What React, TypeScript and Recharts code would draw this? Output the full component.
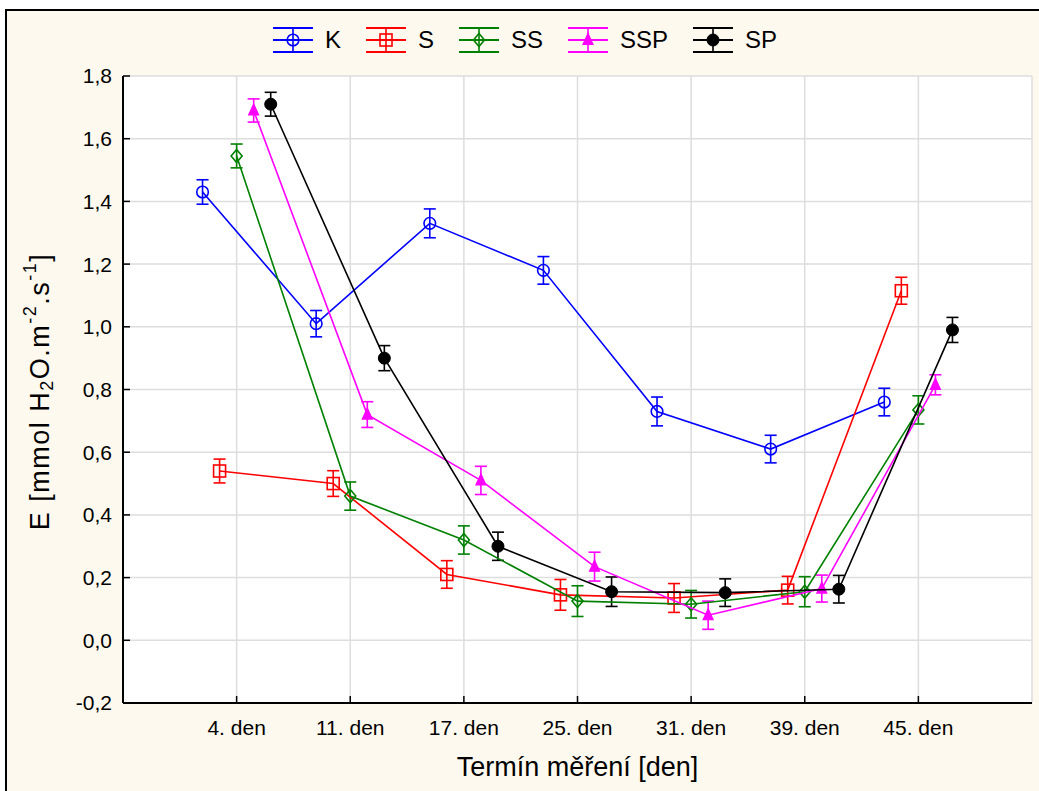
import React from 'react';
import { ScatterChart, Scatter, XAxis, YAxis, CartesianGrid, ErrorBar } from 'recharts';

// Measurement days (x categories)
const categories = ['4. den', '11. den', '17. den', '25. den', '31. den', '39. den', '45. den'];

// Mean transpiration per variant, mmol H2O m-2 s-1
const kMean = [1.43, 1.01, 1.33, 1.18, 0.73, 0.61, 0.76];
const sMean = [0.54, 0.5, 0.21, 0.145, 0.135, 0.16, 1.115];
const ssMean = [1.545, 0.46, 0.32, 0.125, 0.115, 0.155, 0.735];
const sspMean = [1.69, 0.72, 0.51, 0.235, 0.08, 0.165, 0.815];
const spMean = [1.71, 0.9, 0.3, 0.155, 0.152, 0.163, 0.99];

// Half-width of the error bars (standard error)
const kErr = [0.039, 0.042, 0.046, 0.044, 0.046, 0.044, 0.044];
const sErr = [0.038, 0.041, 0.044, 0.049, 0.046, 0.044, 0.043];
const ssErr = [0.038, 0.045, 0.045, 0.049, 0.044, 0.048, 0.045];
const sspErr = [0.037, 0.041, 0.045, 0.046, 0.045, 0.043, 0.032];
const spErr = [0.038, 0.04, 0.045, 0.047, 0.044, 0.044, 0.04];

const yTicks = [-0.2, 0, 0.2, 0.4, 0.6, 0.8, 1.0, 1.2, 1.4, 1.6, 1.8];
const rightTicks = [0, 1, 2, 3, 4, 5, 6, 7, 8, 9, 10, 11];

const FONT = '"Liberation Sans", Arial, Helvetica, sans-serif';
const GROUP_SHIFT = 0.15; // horizontal spread of the five variants within one day

type MarkerKind = 'circle' | 'square' | 'diamond' | 'triangle' | 'dot';

interface SeriesDef {
  name: string;
  color: string;
  marker: MarkerKind;
  mean: number[];
  err: number[];
}

const series: SeriesDef[] = [
  { name: 'K', color: '#0000ff', marker: 'circle', mean: kMean, err: kErr },
  { name: 'S', color: '#ff0000', marker: 'square', mean: sMean, err: sErr },
  { name: 'SS', color: '#008000', marker: 'diamond', mean: ssMean, err: ssErr },
  { name: 'SSP', color: '#ff00ff', marker: 'triangle', mean: sspMean, err: sspErr },
  { name: 'SP', color: '#000000', marker: 'dot', mean: spMean, err: spErr },
];

function toPoints(s: SeriesDef, j: number) {
  return s.mean.map((v, i) => ({
    x: i + 1 + (j - 2) * GROUP_SHIFT,
    y: v,
    err: s.err[i],
  }));
}

function Marker({ cx, cy, kind, color }: { cx: number; cy: number; kind: MarkerKind; color: string }) {
  switch (kind) {
    case 'circle':
      return <circle cx={cx} cy={cy} r={5.8} fill="none" stroke={color} strokeWidth={1.6} />;
    case 'square':
      return <rect x={cx - 6} y={cy - 6} width={12} height={12} fill="none" stroke={color} strokeWidth={1.6} />;
    case 'diamond':
      return (
        <polygon
          points={`${cx},${cy - 6.5} ${cx + 5.5},${cy} ${cx},${cy + 6.5} ${cx - 5.5},${cy}`}
          fill="none"
          stroke={color}
          strokeWidth={1.6}
        />
      );
    case 'triangle':
      return (
        <polygon
          points={`${cx},${cy - 6.5} ${cx + 5},${cy + 4.5} ${cx - 5},${cy + 4.5}`}
          fill={color}
          stroke={color}
          strokeWidth={1.2}
        />
      );
    default:
      return <circle cx={cx} cy={cy} r={6} fill={color} stroke={color} strokeWidth={1} />;
  }
}

function LegendIcon({ s }: { s: SeriesDef }) {
  return (
    <svg width={40} height={26} style={{ display: 'block' }}>
      <line x1={0} x2={40} y1={1} y2={1} stroke={s.color} strokeWidth={2} />
      <line x1={0} x2={40} y1={13} y2={13} stroke={s.color} strokeWidth={2} />
      <line x1={0} x2={40} y1={25} y2={25} stroke={s.color} strokeWidth={2} />
      <line x1={20} x2={20} y1={1} y2={25} stroke={s.color} strokeWidth={1.6} />
      <Marker cx={20} cy={13} kind={s.marker} color={s.color} />
    </svg>
  );
}

function YTitle(props: any) {
  const { x, y, height } = props.viewBox;
  const cx = x - 20;
  const cy = y + height / 2 + 2;
  return (
    <text
      x={cx}
      y={cy}
      transform={`rotate(-90 ${cx} ${cy})`}
      textAnchor="middle"
      dominantBaseline="central"
      fontSize={27}
      letterSpacing={1.5}
      fontFamily={FONT}
      fill="#000"
    >
      E [mmol H
      <tspan dy={7} fontSize={18}>2</tspan>
      <tspan dy={-7}>O.m</tspan>
      <tspan dy={-10} fontSize={18}>-2</tspan>
      <tspan dy={10}>.s</tspan>
      <tspan dy={-10} fontSize={18}>-1</tspan>
      <tspan dy={10}>]</tspan>
    </text>
  );
}

function XTitle(props: any) {
  const { x, y, width } = props.viewBox;
  return (
    <text x={x + width / 2} y={y + 73} textAnchor="middle" fontSize={27} fontFamily={FONT} fill="#000">
      Termín měření [den]
    </text>
  );
}

const fmtY = (v: number) => v.toFixed(1).replace('.', ',');

export default function App() {
  const xTicks = categories.map((_, i) => i + 1);

  return (
    <div
      style={{
        position: 'absolute',
        left: 0,
        top: 0,
        width: 1039,
        height: 791,
        background: '#ffffff',
        overflow: 'hidden',
        fontFamily: FONT,
      }}
    >
      <div
        style={{
          position: 'absolute',
          left: 5,
          top: 9,
          width: 1100,
          height: 900,
          border: '2px solid #000',
          background: '#fdf9ee',
        }}
      />

      <div
        style={{
          position: 'absolute',
          left: 18,
          top: 27,
          width: 1039,
          display: 'flex',
          justifyContent: 'center',
          alignItems: 'center',
        }}
      >
        {series.map((s) => (
          <div key={s.name} style={{ display: 'flex', alignItems: 'center', marginRight: 25 }}>
            <LegendIcon s={s} />
            <span style={{ fontSize: 24, marginLeft: 12, lineHeight: '26px', color: '#000' }}>{s.name}</span>
          </div>
        ))}
      </div>

      <div style={{ position: 'absolute', left: 0, top: 0 }}>
        <ScatterChart width={1039} height={791} margin={{ top: 76, right: 7, bottom: 38, left: 60 }}>
          <CartesianGrid xAxisId="b" yAxisId="l" fill="#ffffff" stroke="#dddddd" strokeWidth={1.5} />
          <XAxis
            xAxisId="b"
            type="number"
            dataKey="x"
            domain={[0, 8]}
            ticks={xTicks}
            interval={0}
            allowDataOverflow
            tickFormatter={(v: number) => categories[v - 1] ?? ''}
            height={50}
            tickSize={-7}
            tickMargin={24}
            axisLine={{ stroke: '#000', strokeWidth: 2 }}
            tickLine={{ stroke: '#000', strokeWidth: 1.5 }}
            tick={{ fill: '#000', fontSize: 21, fontFamily: FONT }}
            label={<XTitle />}
          />
          <XAxis
            xAxisId="t"
            orientation="top"
            type="number"
            domain={[0, 8]}
            ticks={xTicks}
            interval={0}
            allowDataOverflow
            height={0}
            tickSize={-7}
            tickFormatter={() => ''}
            axisLine={{ stroke: '#000', strokeWidth: 2 }}
            tickLine={{ stroke: '#000', strokeWidth: 1.5 }}
          />
          <YAxis
            yAxisId="l"
            type="number"
            domain={[-0.2, 1.8]}
            ticks={yTicks}
            interval={0}
            allowDataOverflow
            width={63}
            tickSize={-7}
            tickMargin={18}
            tickFormatter={fmtY}
            axisLine={{ stroke: '#000', strokeWidth: 2 }}
            tickLine={{ stroke: '#000', strokeWidth: 1.5 }}
            tick={{ fill: '#000', fontSize: 21, fontFamily: FONT }}
            label={<YTitle />}
          />
          <YAxis
            yAxisId="r"
            orientation="right"
            type="number"
            domain={[0, 11]}
            ticks={rightTicks}
            interval={0}
            allowDataOverflow
            width={0}
            tickSize={-7}
            tickFormatter={() => ''}
            axisLine={{ stroke: '#000', strokeWidth: 2 }}
            tickLine={{ stroke: '#000', strokeWidth: 1.5 }}
          />
          {series.map((s, j) => (
            <Scatter
              key={s.name}
              name={s.name}
              xAxisId="b"
              yAxisId="l"
              data={toPoints(s, j)}
              dataKey="y"
              line={{ stroke: s.color, strokeWidth: 1.6 }}
              lineType="joint"
              isAnimationActive={false}
              shape={(p: any) => <Marker cx={p.cx} cy={p.cy} kind={s.marker} color={s.color} />}
            >
              <ErrorBar dataKey="err" direction="y" width={6} stroke={s.color} strokeWidth={1.6} />
            </Scatter>
          ))}
        </ScatterChart>
      </div>
    </div>
  );
}
